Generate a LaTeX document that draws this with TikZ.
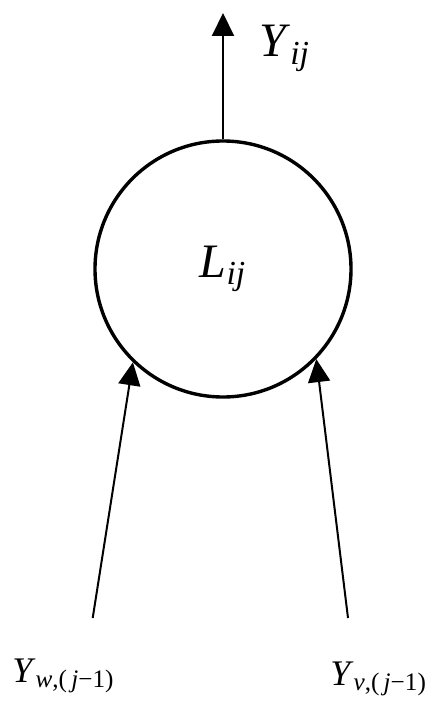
\documentclass[tikz,border=0pt]{standalone}
\usepackage{fontspec}
\setmainfont{Liberation Serif}
\usetikzlibrary{arrows.meta, positioning}

\begin{document}
\begin{tikzpicture}[
        x=0.5pt, y=-0.5pt,
        cell/.style={
            circle,
            draw=black,
            line width=1.7pt,
            minimum size=128pt,
            inner sep=0pt,
            font=\fontsize{24}{28}\selectfont
        },
        arrow/.style={
            -{Triangle[length=11.5pt, width=11pt]},
            line width=1pt
        },
        toplabel/.style={
            anchor=base west,
            inner sep=0pt,
            font=\fontsize{24}{28}\selectfont
        },
        inlabel/.style={
            anchor=base west,
            inner sep=0pt,
            font=\fontsize{18}{22}\selectfont
        }
    ]

    \useasboundingbox (0,0) rectangle (425,705);

    % Nodes
    \node[cell] (L) at (223,269) {\textit{L}\textsubscript{\textit{ij}}};
    \coordinate (out) at (223,13);
    \coordinate (inw) at (92.7,618);
    \coordinate (inv) at (348,618);

    % Labels
    \node[toplabel] (Yij) at (259,57) {\textit{Y}\textsubscript{\textit{ij}}};
    \node[inlabel] (Yw) at (12,682) {\textit{Y}\textsubscript{\textit{w},(\,\textit{j}−1)}};
    \node[inlabel] (Yv) at (330,685) {\textit{Y}\textsubscript{\textit{v},(\,\textit{j}−1)}};

    % Arrows
    \draw[arrow] (L.north) -- (out);
    \draw[arrow] (inw) -- (L.226);
    \draw[arrow] (inv) -- (L.316);

\end{tikzpicture}
\end{document}
